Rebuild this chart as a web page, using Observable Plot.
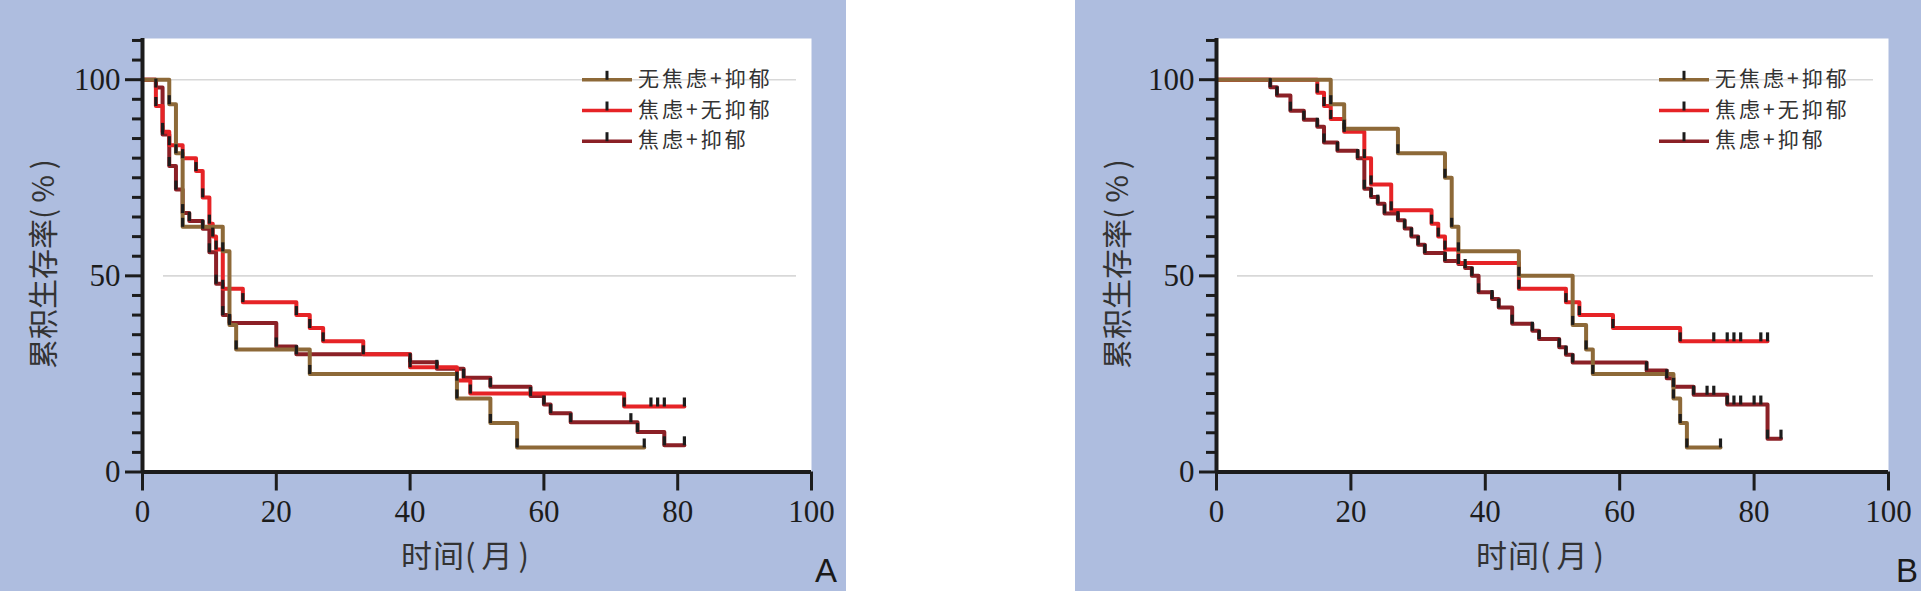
<!DOCTYPE html>
<html>
<head>
<meta charset="utf-8">
<script src="https://cdn.jsdelivr.net/npm/d3@7"></script>
<script src="https://cdn.jsdelivr.net/npm/@observablehq/plot@0.6"></script>
<style>
html, body { margin: 0; padding: 0; background: #ffffff; }
body { width: 1921px; height: 591px; position: relative; overflow: hidden; }
.panel { position: absolute; top: 0; width: 846px; height: 591px; background: #aebddf; }
.panel svg { position: absolute; left: 0; top: 0; }
</style>
</head>
<body>
<div class="panel" id="panelA" style="left:0px"></div>
<div class="panel" id="panelB" style="left:1075px"></div>
<script>
// ---------- shared labels / ticks ----------
const xTicks = [0, 20, 40, 60, 80, 100];
const yMajorTicks = [0, 50, 100];
const yMinorTicks = [5, 10, 15, 20, 25, 30, 35, 40, 45, 55, 60, 65, 70, 75, 80, 85, 90, 95, 105, 110];
const gridValues = [50, 100];
const groupNames = ["无焦虑+抑郁", "焦虑+无抑郁", "焦虑+抑郁"];
const groupColors = ["#8d6938", "#e62326", "#8b2026"];
const xTitleMain = "时间", xTitleUnit = "(月)";
const yTitleMain = "累积生存率", yTitleUnit = "(%)";
const panelLetters = ["A", "B"];

// ---------- Panel A : times (months), survival (%), censor times ----------
const aBrownT = [0, 4, 5, 6, 12, 13, 14, 25, 47, 52, 56];
const aBrownS = [100, 93.75, 81.25, 62.5, 56.25, 37.5, 31.25, 25, 18.75, 12.5, 6.25];
const aBrownC = [75];

const aRedT = [0, 2, 3, 4, 6, 8, 9, 10, 10.5, 11, 12, 15, 23, 25, 27, 33, 40, 47, 49, 72];
const aRedS = [100, 93.3, 86.7, 83.3, 80, 76.7, 70, 63.3, 60, 56.7, 46.7, 43.3, 40, 36.7, 33.3, 30, 26.7, 23.3, 20, 16.7];
const aRedC = [76, 77, 78, 81];

const aDarkT = [0, 2, 3, 4, 5, 6, 7, 9, 10, 11, 12, 13, 20, 23, 40, 44, 48, 52, 58, 60, 61, 64, 74, 78];
const aDarkS = [100, 98, 86, 78, 72, 66, 64, 62, 56, 48, 40, 38, 32, 30, 28, 26.3, 24, 21.7, 19.4, 17.2, 15, 12.7, 10.2, 6.8];
const aDarkC = [73, 81];

// ---------- Panel B ----------
const bBrownT = [0, 17, 19, 27, 34, 35, 36, 45, 53, 55, 56, 68, 69, 70];
const bBrownS = [100, 93.75, 87.5, 81.25, 75, 62.5, 56.25, 50, 37.5, 31.25, 25, 18.75, 12.5, 6.25];
const bBrownC = [75];

const bRedT = [0, 15, 16, 17, 19, 22, 23, 26, 32, 33, 34, 36, 45, 52, 54, 59, 69];
const bRedS = [100, 96.7, 93.3, 90, 86.7, 80, 73.3, 66.7, 63.3, 60, 56.7, 53.3, 46.7, 43.3, 40, 36.7, 33.3];
const bRedC = [74, 76, 77, 78, 81, 82];

const bDarkT = [0, 8, 9, 11, 13, 15, 16, 18, 21, 22, 23, 24, 25, 27, 28, 29, 30, 31, 34, 36, 37, 38, 39, 41, 42, 44, 47, 48, 51, 52, 53, 64, 67, 68, 71, 76, 82];
const bDarkS = [100, 98.1, 96.0, 92.1, 89.8, 88.0, 84.0, 81.9, 80.0, 72.2, 70.1, 68.4, 65.9, 64.2, 62.1, 60.0, 57.9, 55.8, 53.8, 53.0, 52.0, 50.0, 45.8, 44.1, 41.9, 37.8, 36.0, 33.9, 31.8, 29.9, 27.9, 25.9, 23.9, 21.7, 19.7, 17.2, 8.5];
const bDarkC = [73, 74, 77, 78, 80, 81, 84];

// ---------- helpers ----------
function stepRows(T, S, C) {
  const rows = T.map((t, i) => ({t, s: S[i]}));
  rows.push({t: C[C.length - 1], s: S[S.length - 1]});
  return rows;
}
function survAt(T, S, c) {
  let s = S[0];
  T.forEach((t, i) => { if (t <= c) s = S[i]; });
  return s;
}
function tickRows(T, S, C) {
  const rows = T.slice(1).map((t, i) => ({t, s: S[i + 1]}));
  C.forEach(c => rows.push({t: c, s: survAt(T, S, c)}));
  return rows;
}
const tickSymbol = { draw(ctx) { ctx.moveTo(0, 0); ctx.lineTo(0, -9); } };
const ink = "#1c1c1c";

function drawPanel(el, series, cfg) {
  const marks = [
    Plot.frame({fill: "white", stroke: null}),
    Plot.ruleY(gridValues, {stroke: "#d8d8d8", strokeWidth: 1.6, insetLeft: 21, insetRight: 15})
  ];
  // draw order: dark red, red, brown (brown on top)
  [2, 1, 0].forEach(k => {
    const [T, S, C] = series[k];
    marks.push(Plot.line(stepRows(T, S, C), {x: "t", y: "s", curve: "step-after", stroke: groupColors[k], strokeWidth: 4}));
  });
  [2, 1, 0].forEach(k => {
    const [T, S, C] = series[k];
    marks.push(Plot.dot(tickRows(T, S, C), {x: "t", y: "s", symbol: tickSymbol, r: 4, fill: "none", stroke: ink, strokeWidth: 3.2}));
  });
  marks.push(
    Plot.ruleX([0], {stroke: ink, strokeWidth: 4}),
    Plot.ruleY([0], {stroke: ink, strokeWidth: 4}),
    Plot.axisX({ticks: xTicks, tickSize: 19, tickPadding: 9, strokeWidth: 3, color: ink, label: null, fontSize: 31}),
    Plot.axisY({ticks: yMajorTicks, tickSize: 17, tickPadding: 5, strokeWidth: 3, color: ink, label: null, fontSize: 31}),
    Plot.axisY({ticks: yMinorTicks, tickSize: 10, tickFormat: () => "", strokeWidth: 3, color: ink, label: null})
  );
  const svg = Plot.plot({
    width: 846, height: 591,
    marginLeft: cfg.ml, marginRight: cfg.mr, marginTop: 38, marginBottom: 119.5,
    style: {background: "transparent", fontFamily: "'Liberation Serif', serif", fontSize: "31px", overflow: "visible"},
    x: {domain: [0, 100], label: null},
    y: {domain: [0, 110.5], label: null},
    marks
  });
  el.appendChild(svg);

  // overlay: titles, legend, panel letter
  const o = d3.select(el).append("svg")
    .attr("width", 846).attr("height", 591)
    .style("position", "absolute").style("left", "0px").style("top", "0px");
  const cjk = "'Noto Sans CJK SC', sans-serif";

  const xt = o.append("text")
    .attr("x", cfg.xtX).attr("y", 553)
    .attr("text-anchor", "middle").attr("dominant-baseline", "central")
    .style("font-family", cjk).style("font-size", "31px").attr("fill", "#333");
  xt.append("tspan").text(xTitleMain).style("letter-spacing", "1px");
  xt.append("tspan").text(xTitleUnit).style("letter-spacing", "6px");

  const yt = o.append("text")
    .attr("transform", `translate(${cfg.ytX},261) rotate(-90)`)
    .attr("text-anchor", "middle").attr("dominant-baseline", "central")
    .style("font-family", cjk).style("font-size", "30px").attr("fill", "#333");
  yt.append("tspan").text(yTitleMain).style("letter-spacing", "0px");
  yt.append("tspan").text(yTitleUnit).style("letter-spacing", "6px");

  o.append("text").text(cfg.letter)
    .attr("x", cfg.letterX).attr("y", 582).attr("text-anchor", "end")
    .style("font-family", "'Liberation Sans', Arial, sans-serif").style("font-size", "33px").attr("fill", "#1a1a1a");

  const rowsY = [79.8, 110.5, 141.2];
  groupNames.forEach((name, k) => {
    const y = rowsY[k];
    o.append("line").attr("x1", cfg.legX).attr("x2", cfg.legX + 50).attr("y1", y).attr("y2", y)
      .attr("stroke", groupColors[k]).attr("stroke-width", 3.5);
    o.append("line").attr("x1", cfg.legX + 25).attr("x2", cfg.legX + 25).attr("y1", y).attr("y2", y - 9)
      .attr("stroke", ink).attr("stroke-width", 3);
    o.append("text").text(name).attr("x", cfg.legX + 56).attr("y", y - 3)
      .attr("dominant-baseline", "central")
      .style("font-family", cjk).style("font-size", "21px").style("letter-spacing", "3px").attr("fill", "#333");
  });
}

drawPanel(document.getElementById("panelA"),
  [[aBrownT, aBrownS, aBrownC], [aRedT, aRedS, aRedC], [aDarkT, aDarkS, aDarkC]],
  {ml: 142, mr: 35, xtX: 468, ytX: 41, letter: panelLetters[0], letterX: 837, legX: 582});
drawPanel(document.getElementById("panelB"),
  [[bBrownT, bBrownS, bBrownC], [bRedT, bRedS, bRedC], [bDarkT, bDarkS, bDarkC]],
  {ml: 141, mr: 33, xtX: 468, ytX: 40, letter: panelLetters[1], letterX: 843, legX: 584});
</script>
</body>
</html>
